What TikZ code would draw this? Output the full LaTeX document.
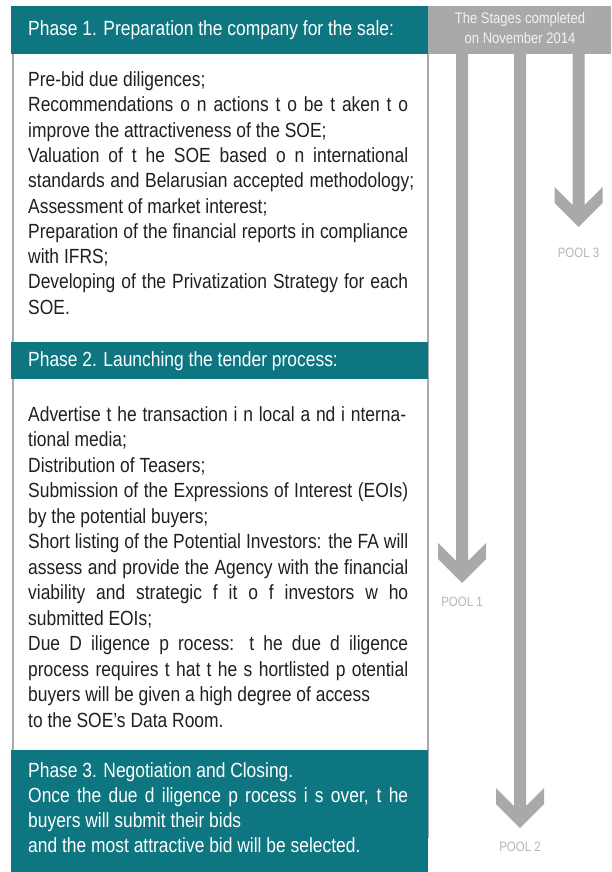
\documentclass[tikz,border=0pt]{standalone}
\usepackage{fontspec}
\setmainfont{Liberation Sans}[FakeStretch=0.85]
\definecolor{tealc}{RGB}{14,118,128}
\definecolor{grayc}{RGB}{167,169,170}
\definecolor{lgrayc}{RGB}{180,182,183}
\definecolor{bodyc}{RGB}{35,31,32}
\definecolor{stagec}{RGB}{242,242,242}
\tikzset{
  bodyline/.style={anchor=base west, inner sep=0pt, text=bodyc, font=\fontsize{20.5}{25}\selectfont},
  whiteline/.style={bodyline, text=white},
  headtext/.style={anchor=west, inner sep=0pt, text=white, font=\fontsize{20.5}{25}\selectfont},
  hdrbox/.style={anchor=north west, fill=tealc, inner sep=0pt, minimum width=417pt},
  poollabel/.style={inner sep=0pt, text=lgrayc, font=\fontsize{13.5}{15}\selectfont},
  stagetext/.style={inner sep=0pt, text=stagec, align=center, font=\fontsize{15.3}{20}\selectfont},
  borderline/.style={draw=grayc, line width=2pt},
  arrowshape/.style={fill=grayc}
}
\newcommand\poolshape[2]{%
  \fill[arrowshape] (#1-6,54) -- (#1-6,#2-22) -- (#1-24,#2-40) -- (#1-24,#2-24) -- (#1,#2)
    -- (#1+24,#2-24) -- (#1+24,#2-40) -- (#1+6,#2-22) -- (#1+6,54) -- cycle;}
\begin{document}
\begin{tikzpicture}[x=1pt,y=-1pt]
\useasboundingbox (0,0) rectangle (611,872);
\fill[white] (0,0) rectangle (611,872);

% side borders
\draw[borderline] (12.5,54) -- (12.5,750);
\draw[borderline] (427.5,54) -- (427.5,838);

% stages box
\node[anchor=north west, fill=grayc, inner sep=0pt, minimum width=184pt, minimum height=48pt] (stbox) at (427,6) {};
\node[stagetext] (stg) at (520,28.5) {The Stages completed\\on November 2014};

% arrows
\poolshape{462}{583}
\poolshape{520}{828}
\poolshape{578.5}{227}
\node[poollabel] (pool1) at (462,602) {POOL 1};
\node[poollabel] (pool2) at (520,847) {POOL 2};
\node[poollabel] (pool3) at (578.5,252.5) {POOL 3};

% Phase 1
\node[hdrbox, minimum height=48pt] (h1) at (11,6) {};
\node[headtext] (h1t) at (28,30.5) {Phase 1. Preparation the company for the sale:};
\foreach \t [count=\i] in {
  {Pre-bid due diligences;},
  {\makebox[380pt][s]{Recommendations o n actions t o be t aken t o}},
  {improve the attractiveness of the SOE;},
  {\makebox[380pt][s]{Valuation of t he SOE based o n international}},
  {\makebox[386pt][s]{standards and Belarusian accepted methodology;}},
  {Assessment of market interest;},
  {\makebox[380pt][s]{Preparation of the financial reports in compliance}},
  {with IFRS;},
  {\makebox[380pt][s]{Developing of the Privatization Strategy for each}},
  {SOE.}}
  \node[bodyline, name=pa\i] at (28,{86.5+(\i-1)*25.3}) {\t};

% Phase 2
\node[hdrbox, minimum height=37pt] (h2) at (11,342) {};
\node[headtext] (h2t) at (28,361.5) {Phase 2. Launching the tender process:};
\foreach \t [count=\i] in {
  {\makebox[378pt][s]{Advertise t he transaction i n local a nd i nterna-}},
  {tional media;},
  {Distribution of Teasers;},
  {\makebox[380pt][s]{Submission of the Expressions of Interest (EOIs)}},
  {by the potential buyers;},
  {\makebox[380pt][s]{Short listing of the Potential Investors: the FA will}},
  {\makebox[380pt][s]{assess and provide the Agency with the financial}},
  {\makebox[380pt][s]{viability and strategic f it o f investors w ho}},
  {submitted EOIs;},
  {\makebox[380pt][s]{Due D iligence p rocess: t he due d iligence}},
  {\makebox[380pt][s]{process requires t hat t he s hortlisted p otential}},
  {buyers will be given a high degree of access},
  {to the SOE’s Data Room.}}
  \node[bodyline, name=pb\i] at (28,{421+(\i-1)*25.5}) {\t};

% Phase 3
\node[hdrbox, minimum height=122pt] (h3) at (11,750) {};
\foreach \t [count=\i] in {
  {Phase 3. Negotiation and Closing.},
  {\makebox[380pt][s]{Once the due d iligence p rocess i s over, t he}},
  {buyers will submit their bids},
  {and the most attractive bid will be selected.}}
  \node[whiteline, name=pc\i] at (28,{777.5+(\i-1)*25}) {\t};
\end{tikzpicture}
\end{document}
